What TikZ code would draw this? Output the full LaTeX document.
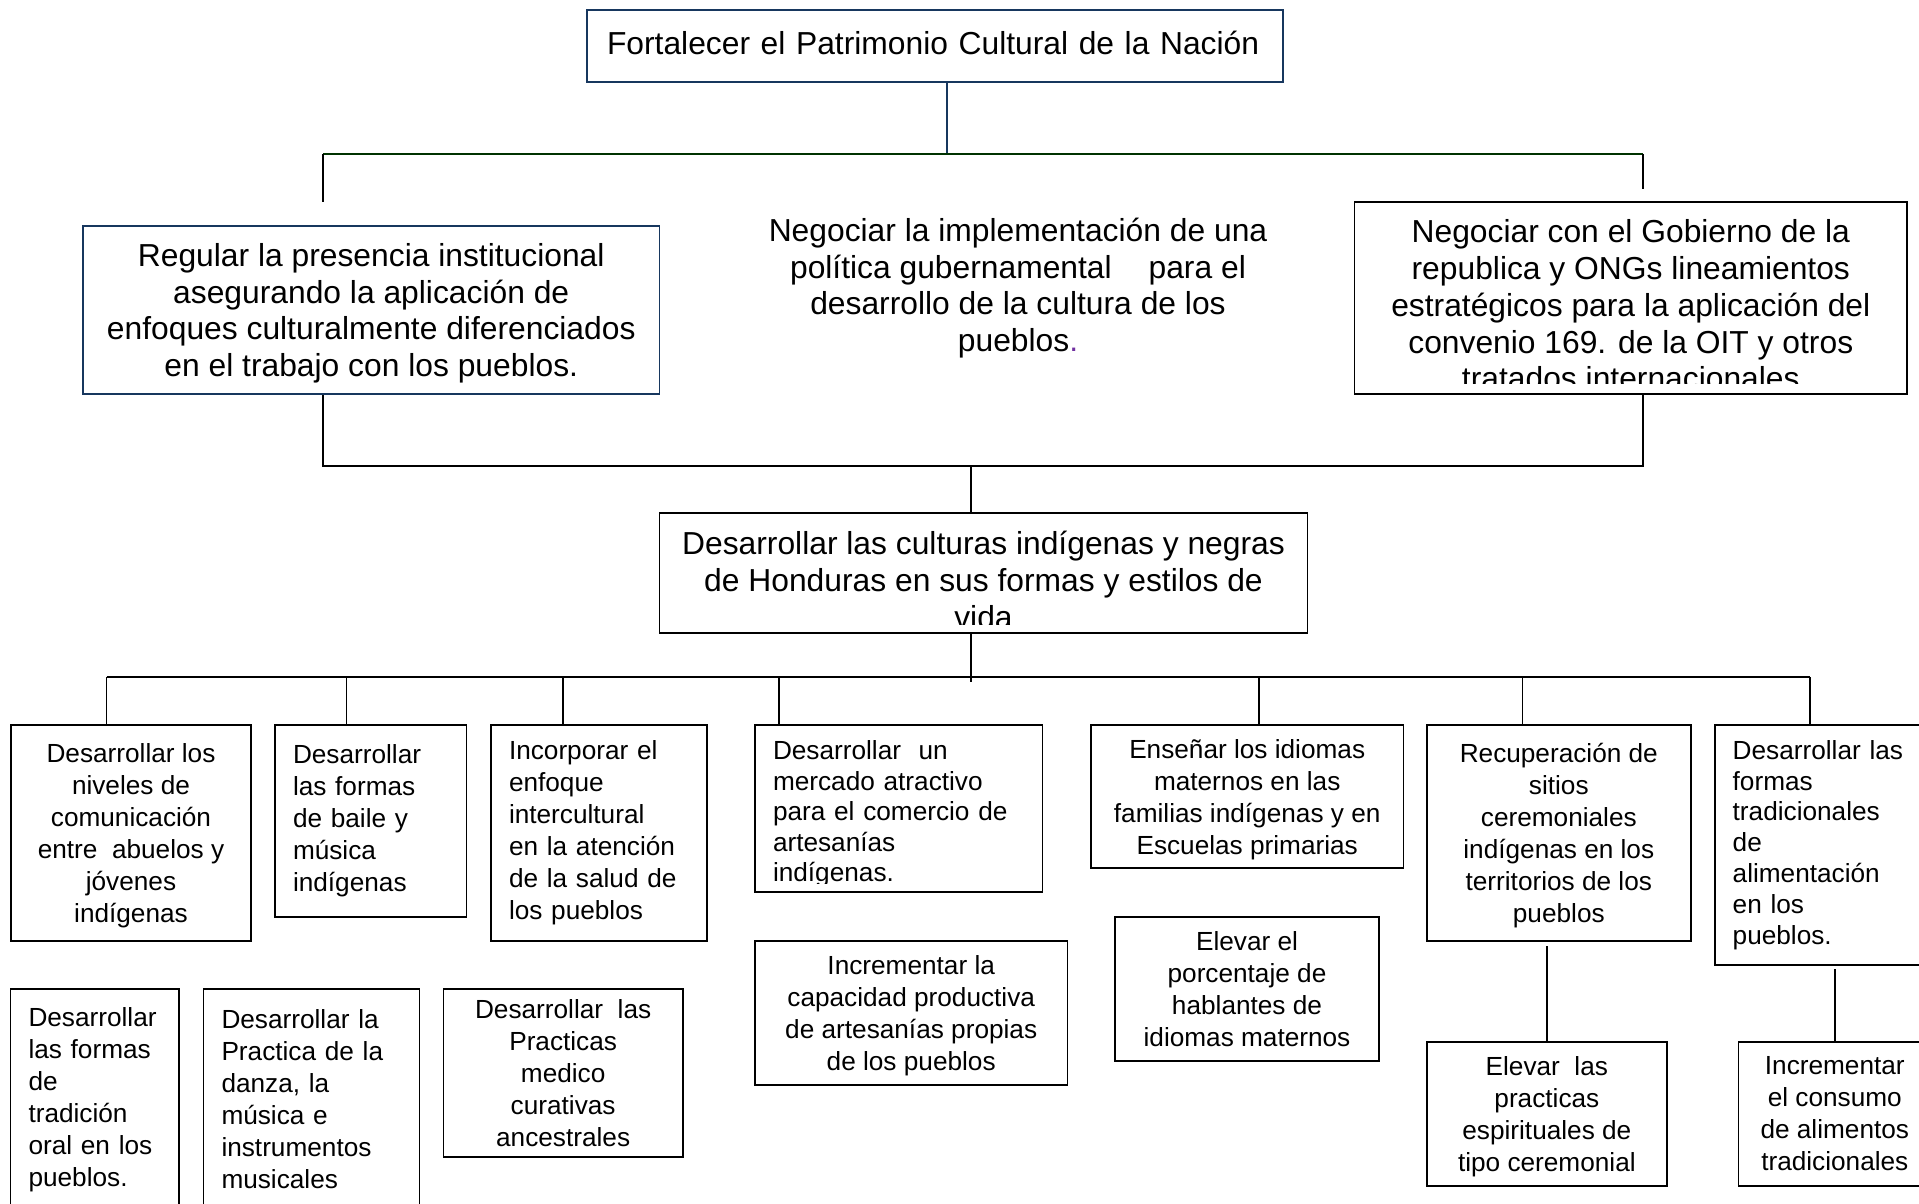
\documentclass[tikz,border=0pt]{standalone}
\usepackage{fontspec}
\setmainfont{Liberation Sans}

\definecolor{azul}{RGB}{23,55,94}
\definecolor{verde}{RGB}{0,51,0}
\definecolor{morado}{RGB}{112,48,160}

\begin{document}
\begin{tikzpicture}[x=0.5pt, y=-0.5pt,
	caja/.style={draw, rectangle, line width=0.85pt, inner sep=0pt},
	grande/.style={font=\fontsize{15.9}{18.35}\selectfont, align=center},
	chica/.style={font=\fontsize{13.1}{16}\selectfont, align=center},
	centro/.style={chica, text depth=0pt},
	izq/.style={chica, align=left, inner xsep=9pt},
	linea/.style={line width=0.75pt}]
		\useasboundingbox (0,0) rectangle (1919,1204);
		
		\node[caja, draw=azul, grande, align=left, inner xsep=10pt, text width=328pt, text depth=3.7pt, minimum width=348pt, minimum height=36pt] (raiz) at (935,46) {Fortalecer el Patrimonio Cultural de la Nación};
		\node[caja, draw=azul, grande, text depth=0pt, minimum width=288.25pt, minimum height=84.3pt] (regular) at (371.25,310) {Regular la presencia institucional\\asegurando la aplicación de\\enfoques culturalmente diferenciados\\en el trabajo con los pueblos.};
		\node[grande] (negociar) at (1018,288) {Negociar la implementación de una\\política gubernamental\hspace{1.16em}para el\\desarrollo de la cultura de los\\pueblos\textcolor{morado}{.}};
		\node[caja, minimum width=276.25pt, minimum height=96.15pt] (gobierno) at (1630.75,297.85) {};
		\begin{scope}
			\clip (1354.5,201.7) rectangle (1907,383);
			\node[grande] (gobiernoT) at (1630.8,305) {Negociar con el Gobierno de la\\republica y ONGs lineamientos\\estratégicos para la aplicación del\\convenio 169. de la OIT y otros\\tratados internacionales};
		\end{scope}
		
		\node[caja, minimum width=324pt, minimum height=60pt] (culturas) at (983.5,573.3) {};
		\begin{scope}
			\clip (659.5,513.3) rectangle (1307.4,624);
			\node[grande] (culturasT) at (983.5,580) {Desarrollar las culturas indígenas y negras\\de Honduras en sus formas y estilos de\\vida};
		\end{scope}
		
		\node[caja, centro, minimum width=120pt, minimum height=108pt] (niveles) at (131,833) {Desarrollar los\\niveles de\\comunicación\\entre\ \ abuelos y\\jóvenes\\indígenas};
		\node[caja, izq, text width=77.8pt, minimum width=95.8pt, minimum height=96pt] (baile) at (370.8,821) {Desarrollar\\las formas\\de baile y\\música\\indígenas};
		\node[caja, izq, text width=90.15pt, minimum width=108.15pt, minimum height=108pt] (salud) at (599.15,833) {Incorporar el\\enfoque\\intercultural\\en la atención\\de la salud de\\los pueblos};
		\node[caja, minimum width=143.8pt, minimum height=83.65pt] (mercado) at (898.8,808.65) {};
		\begin{scope}
			\clip (755,725) rectangle (1042.6,883);
			\node[izq, font=\fontsize{13.1}{15.3}\selectfont, text width=125.8pt] (mercadoT) at (898.8,814) {Desarrollar\ \ un\\mercado atractivo\\para el comercio de\\artesanías\\indígenas.};
		\end{scope}
		\node[caja, centro, minimum width=156.2pt, minimum height=71.65pt] (idiomas) at (1247.2,796.65) {Enseñar los idiomas\\maternos en las\\familias indígenas y en\\Escuelas primarias};
		\node[caja, centro, minimum width=132.1pt, minimum height=108pt] (sitios) at (1558.8,833) {Recuperación de\\sitios\\ceremoniales\\indígenas en los\\territorios de los\\pueblos};
		\node[caja, izq, font=\fontsize{13.1}{15.4}\selectfont, text width=94.65pt, minimum width=112.65pt, minimum height=120pt] (alimentos) at (1827.35,845) {Desarrollar las\\formas\\tradicionales\\de\\alimentación\\en los\\pueblos.};
		
		\node[caja, izq, text width=66.25pt, minimum width=84.25pt, minimum height=110.5pt] (oral) at (94.75,1099.5) {Desarrollar\\las formas\\de\\tradición\\oral en los\\pueblos.};
		\node[caja, izq, text width=90.05pt, minimum width=108.05pt, minimum height=110.5pt] (danza) at (311.55,1099.5) {Desarrollar la\\Practica de la\\danza, la\\música e\\instrumentos\\musicales};
		\node[caja, centro, minimum width=119.65pt, minimum height=84.15pt] (medico) at (563.15,1073.15) {Desarrollar\ \ las\\Practicas\\medico\\curativas\\ancestrales};
		\node[caja, centro, minimum width=156.2pt, minimum height=72.15pt] (artesanias) at (911.2,1012.85) {Incrementar la\\capacidad productiva\\de artesanías propias\\de los pueblos};
		\node[caja, centro, minimum width=132pt, minimum height=72.15pt] (hablantes) at (1247,988.85) {Elevar el\\porcentaje de\\hablantes de\\idiomas maternos};
		\node[caja, centro, minimum width=120.15pt, minimum height=72.15pt] (espiritual) at (1546.85,1113.85) {Elevar\ \ las\\practicas\\espirituales de\\tipo ceremonial};
		\node[caja, centro, minimum width=96.2pt, minimum height=72.15pt] (consumo) at (1834.8,1113.85) {Incrementar\\el consumo\\de alimentos\\tradicionales};
		
		\coordinate (r1) at (947,154);
		\coordinate (r2) at (323,154);
		\coordinate (r3) at (1643,154);
		\coordinate (e1) at (323,202);
		\coordinate (e2) at (1643,189);
		\coordinate (m1) at (971,466);
		\coordinate (h0) at (971,682);
		\coordinate (h1) at (106.5,677);
		\coordinate (h2) at (346.6,677);
		\coordinate (h3) at (562.8,677);
		\coordinate (h4) at (779,677);
		\coordinate (h5) at (1259,677);
		\coordinate (h6) at (1522.7,677);
		\coordinate (h7) at (1810,677);
		\coordinate (g1) at (1547,946);
		\coordinate (g2) at (1835,969);
		
		\draw[azul, line width=1pt] (raiz.south -| r1) -- (r1);
		\draw[verde, line width=1pt] (r2) -- (r3);
		\draw[line width=1pt] (regular.south -| r2) |- (m1) -| (gobierno.south -| r3);
		\draw[line width=1pt] (h1) -- (h7);
		\path[linea]
		(r2) edge (e1)
		(r3) edge (e2)
		(m1) edge (culturas.north -| m1)
		(culturas.south -| m1) edge (h0)
		(h1) edge (h1 |- niveles.north)
		(h2) edge (h2 |- baile.north)
		(h3) edge (h3 |- salud.north)
		(h4) edge (h4 |- mercado.north)
		(h5) edge (h5 |- idiomas.north)
		(h6) edge (h6 |- sitios.north)
		(h7) edge (h7 |- alimentos.north)
		(g1) edge (g1 |- espiritual.north)
		(g2) edge (g2 |- consumo.north);
	\end{tikzpicture}
\end{document}
